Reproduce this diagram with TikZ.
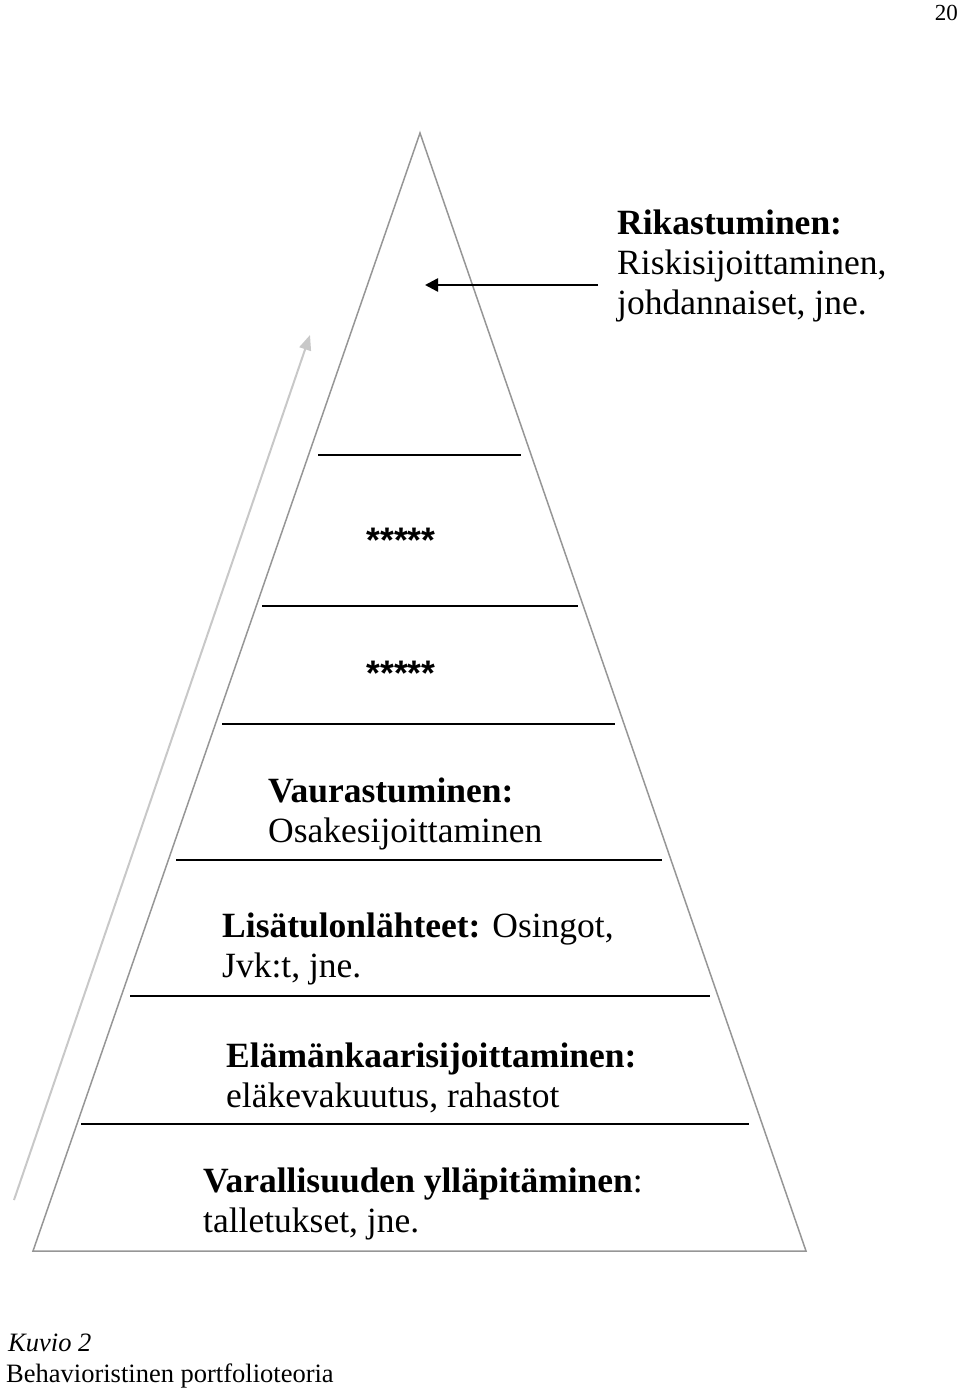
\documentclass[tikz,border=0pt]{standalone}
\usepackage{fontspec}
\setmainfont{Liberation Serif}
\setsansfont{Liberation Sans}
\usetikzlibrary{arrows.meta}

\definecolor{edgegray}{RGB}{150,150,150}
\definecolor{risegray}{RGB}{200,200,200}

\tikzset{
  level/.style={black, line width=2pt},
  txt/.style={anchor=base west, inner sep=0pt, font=\fontsize{35.5}{40}\selectfont},
  stars/.style={anchor=base, inner sep=0pt, font=\fontsize{35.5}{40}\selectfont\sffamily\bfseries},
  caption/.style={anchor=base west, inner sep=0pt, font=\fontsize{26.5}{31}\selectfont},
}

\begin{document}
\begin{tikzpicture}[x=1pt, y=-1pt]
\useasboundingbox (0,0) rectangle (960,1390);

\coordinate (top) at (420,133);
\coordinate (bl) at (33,1251);
\coordinate (br) at (806,1251);
\draw[edgegray, line width=1.5pt] (bl) -- (top) -- (br) -- cycle;

\draw[level] (318,455) -- (521,455);
\draw[level] (262,606) -- (578,606);
\draw[level] (222,724) -- (615,724);
\draw[level] (176,860) -- (662,860);
\draw[level] (130,996) -- (710,996);
\draw[level] (81,1124) -- (749,1124);

\coordinate (risefrom) at (14,1200);
\coordinate (riseto) at (310,335);
\draw[risegray, line width=2pt, -{Triangle[length=15pt, width=12pt]}] (risefrom) -- (riseto);

\coordinate (tipfrom) at (598,285);
\coordinate (tipto) at (425,285);
\draw[line width=2.5pt, -{Triangle[length=13pt, width=13pt]}] (tipfrom) -- (tipto);

\node[txt] (rik1) at (617,234) {\textbf{Rikastuminen:}};
\node[txt] (rik2) at (617,274) {Riskisijoittaminen,};
\node[txt] (rik3) at (617,314) {johdannaiset, jne.};

\node[stars] (star1) at (401,552) {*****};
\node[stars] (star2) at (401,685) {*****};

\node[txt] (vau1) at (268,802) {\textbf{Vaurastuminen:}};
\node[txt] (vau2) at (268,842) {Osakesijoittaminen};

\node[txt] (lis1) at (222,937) {\textbf{Lisätulonlähteet:} Osingot,};
\node[txt] (lis2) at (222,977) {Jvk:t, jne.};

\node[txt] (ela1) at (226,1067) {\textbf{Elämänkaarisijoittaminen:}};
\node[txt] (ela2) at (226,1107) {eläkevakuutus, rahastot};

\node[txt] (var1) at (203,1192) {\textbf{Varallisuuden ylläpitäminen}:};
\node[txt] (var2) at (203,1232) {talletukset, jne.};

\node[caption] (kuv1) at (8,1351) {\textit{Kuvio 2}};
\node[caption] (kuv2) at (6,1382) {Behavioristinen portfolioteoria};

\node[anchor=base east, inner sep=0pt, font=\fontsize{23}{27}\selectfont] (page) at (958,20) {20};

\end{tikzpicture}
\end{document}
